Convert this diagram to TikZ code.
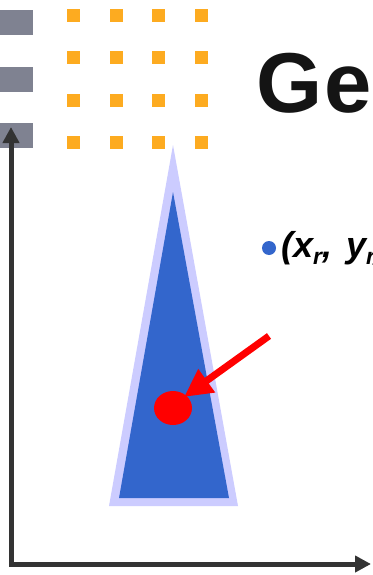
\documentclass[tikz,border=0pt]{standalone}
\usepackage{fontspec}
\setmainfont{Liberation Sans}
\usetikzlibrary{arrows.meta, shapes.geometric}
\definecolor{cGray}{RGB}{127,130,145}
\definecolor{cOrange}{RGB}{253,171,32}
\definecolor{cBlue}{RGB}{51,102,204}
\definecolor{cLight}{RGB}{204,204,255}
\definecolor{cAxis}{RGB}{51,51,51}
\newcommand{\rsub}[1]{\lower7pt\hbox{\fontsize{23}{23}\selectfont #1}}
\tikzset{
    axis/.style={line width=5pt, cAxis},
    pointer/.style={line width=7pt, red, -{Triangle[length=28pt, width=27pt]}},
}

\begin{document}
\begin{tikzpicture}[x=1pt, y=-1pt]
    \useasboundingbox[fill=white] (0,0) rectangle (372,575);

    % --- Gray bars on the left ---
    \foreach \y in {10, 67, 123}
        \fill[cGray] (0,\y) rectangle (33,\y+25);

    % --- Orange grid ---
    \foreach \x in {67, 110, 152, 195}
        \foreach \y in {9, 51, 94, 136}
            \fill[cOrange] (\x,\y) rectangle (\x+13,\y+13);

    % --- Title ---
    \node[anchor=base west, inner sep=0pt, font=\fontsize{85}{85}\selectfont\bfseries,
          text=black!92] (title) at (256,113) {G\kern2pt e\kern6pt n};

    % --- Cone ---
    \fill[cLight] (173,145) -- (109,506) -- (238,506) -- cycle;
    \fill[cBlue] (173,192) -- (119,498) -- (229,498) -- cycle;

    % --- Hit point and pointer ---
    \node[ellipse, fill=red, inner sep=0pt, minimum width=38pt, minimum height=34pt] (hit) at (173,408) {};
    \coordinate (tail) at (269,336);
    \coordinate (tip) at (184,397);
    \draw[pointer] (tail) -- (tip);

    % --- Point label ---
    \fill[cBlue] (269,248) circle (7pt);
    \node[anchor=base west, inner sep=0pt, font=\fontsize{36}{36}\selectfont\bfseries\itshape]
        (pt) at (281,257) {(x\rsub{r}, \kern4pt y\rsub{r})};

    % --- Axes ---
    \draw[axis, {Triangle[length=16pt, width=16pt]}-{Triangle[length=16pt, width=16pt]}]
        (11,127) -- (11,564) -- (371,564);

\end{tikzpicture}
\end{document}
